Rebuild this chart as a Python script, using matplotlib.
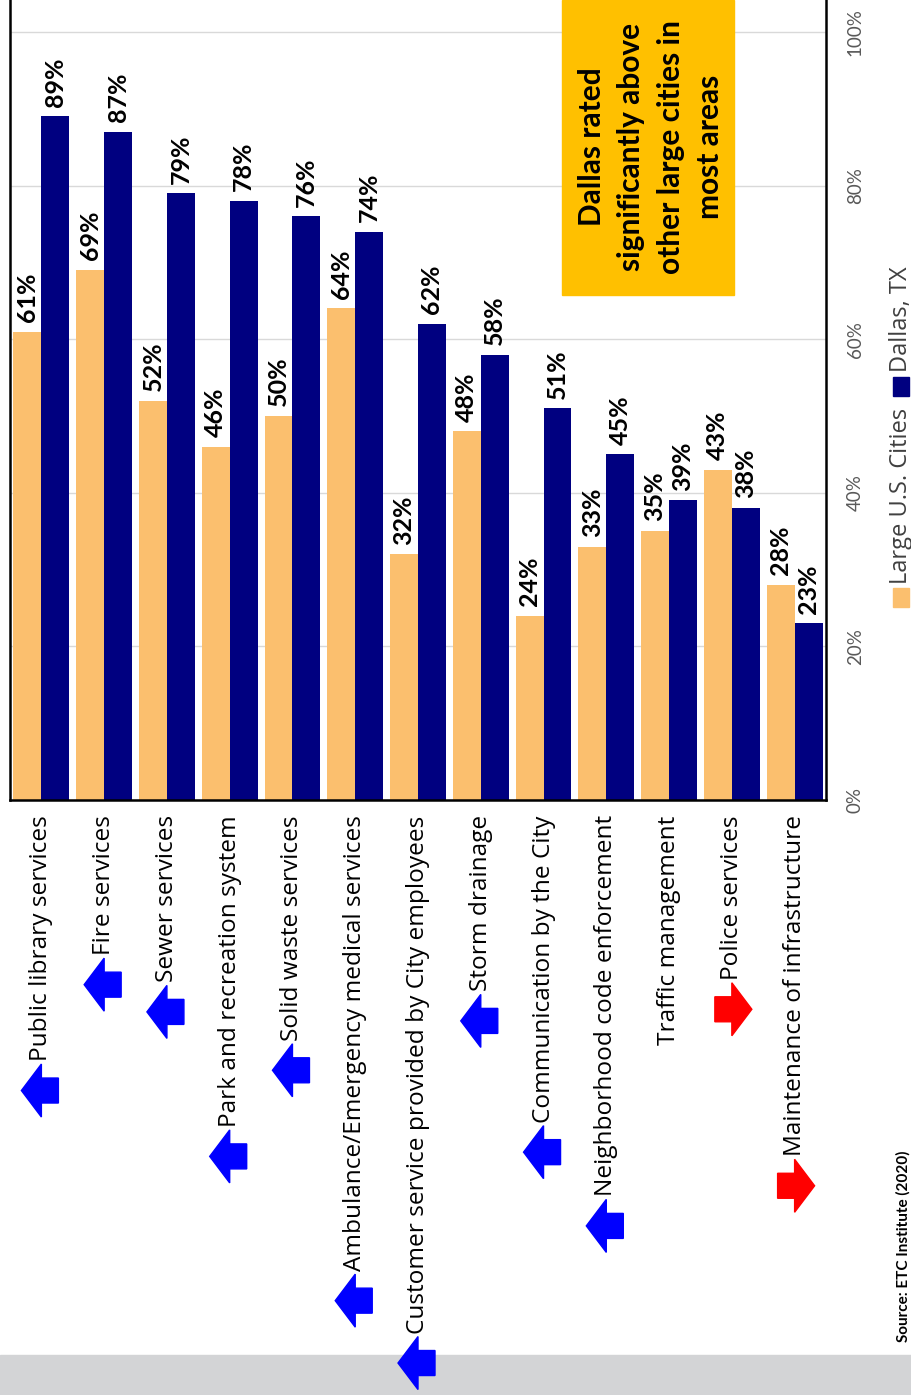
import matplotlib
matplotlib.use('Agg')
import matplotlib.pyplot as plt
import numpy as np
from matplotlib.patches import Polygon, Rectangle

plt.rcParams['font.family'] = ['Lato', 'DejaVu Sans']

services = ['Public library services', 'Fire services', 'Sewer services',
            'Park and recreation system', 'Solid waste services',
            'Ambulance/Emergency medical services',
            'Customer service provided by City employees', 'Storm drainage',
            'Communication by the City', 'Neighborhood code enforcement',
            'Traffic management', 'Police services',
            'Maintenance of infrastructure']
large_cities = [61, 69, 52, 46, 50, 64, 32, 48, 24, 33, 35, 43, 28]
dallas = [89, 87, 79, 78, 76, 74, 62, 58, 51, 45, 39, 38, 23]
# up = Dallas significantly above large cities, down = significantly below
trend = ['up'] * 10 + ['', 'down', 'down']
ticks = [0, 20, 40, 60, 80, 100]

W, H = 912, 1395
fig = plt.figure(figsize=(W / 100, H / 100), dpi=100)


def fx(px):
    return px / W


def fy(py):
    return 1 - py / H


# page is laid out sideways: bars grow upward, labels read bottom-to-top
ax = fig.add_axes([fx(10), fy(800), fx(826) - fx(10), fy(0) - fy(800)])
x = np.arange(len(services))
w = 0.445
ax.bar(x - w / 2, large_cities, w, color='#fbbf6e', zorder=2)
ax.bar(x + w / 2, dallas, w, color='#000080', zorder=2)
ax.set_xlim(-0.5, len(services) - 0.5)
ax.set_ylim(0, 800 / 7.68)

for xi, v in zip(x - w / 2, large_cities):
    ax.annotate(f'{v}%', (xi, v), xytext=(0, 7), textcoords='offset points',
                rotation=90, ha='center', va='bottom', fontsize=18,
                fontweight='bold')
for xi, v in zip(x + w / 2, dallas):
    ax.annotate(f'{v}%', (xi, v), xytext=(0, 7), textcoords='offset points',
                rotation=90, ha='center', va='bottom', fontsize=18,
                fontweight='bold')

ax.set_axisbelow(True)
ax.yaxis.grid(True, color='#d9d9d9', lw=1)
ax.spines['top'].set_visible(False)
for s in ['left', 'bottom', 'right']:
    ax.spines[s].set_linewidth(1.8)
    ax.spines[s].set_color('black')

ax.yaxis.tick_right()
ax.set_yticks(ticks)
ax.set_yticklabels([f'{t}%' for t in ticks])
ax.tick_params(axis='y', length=0, pad=15, labelsize=13.5, labelcolor='#595959')
plt.setp(ax.get_yticklabels(), rotation=90, va='center')

ax.set_xticks(x)
ax.set_xticklabels(services, family=['Open Sans', 'DejaVu Sans'])
ax.tick_params(axis='x', length=0, pad=11, labelsize=17.6)
plt.setp(ax.get_xticklabels(), rotation=90)

# callout box
fig.patches.append(Rectangle((fx(562), fy(295)), fx(734) - fx(562), fy(0) - fy(295),
                             transform=fig.transFigure, color='#ffc000', zorder=3))
fig.text(fx(651), fy(147), 'Dallas rated\nsignificantly above\nother large cities in\nmost areas',
         rotation=90, ha='center', va='center', multialignment='center',
         fontsize=21.5, fontweight='bold', linespacing=1.5, zorder=4)

# legend
fig.patches.append(Rectangle((fx(893), fy(607)), fx(16), 19 / H,
                             transform=fig.transFigure, color='#fbbf6e', zorder=3))
fig.text(fx(901), fy(584), 'Large U.S. Cities', rotation=90, ha='center', va='bottom',
         fontsize=17, color='#404040', family=['Open Sans', 'DejaVu Sans'])
fig.patches.append(Rectangle((fx(893), fy(396)), fx(16), 19 / H,
                             transform=fig.transFigure, color='#000080', zorder=3))
fig.text(fx(901), fy(372), 'Dallas, TX', rotation=90, ha='center', va='bottom',
         fontsize=17, color='#404040', family=['Open Sans', 'DejaVu Sans'])

# grey footer band and source line
fig.patches.append(Rectangle((0, 0), 1, 40 / H, transform=fig.transFigure,
                             color='#d3d4d6', zorder=1))
fig.text(fx(911), fy(1342), 'Source: ETC Institute (2020)', rotation=90,
         ha='right', va='bottom', fontsize=11, fontweight='bold')

# block arrows under each label
fig.canvas.draw()
renderer = fig.canvas.get_renderer()
for i, lab in enumerate(ax.get_xticklabels()):
    if not trend[i]:
        continue
    bb = lab.get_window_extent(renderer)
    cx = ax.transData.transform((i, 0))[0]
    ym = bb.y0 - 3 - 26.5
    if trend[i] == 'up':
        tip, hb, tail, col = cx - 20, cx, cx + 17, '#0000ff'
    else:
        tip, hb, tail, col = cx + 20, cx, cx - 17, '#ff0000'
    pts = [(tip, ym), (hb, ym + 26.5), (hb, ym + 12.5), (tail, ym + 12.5),
           (tail, ym - 12.5), (hb, ym - 12.5), (hb, ym - 26.5)]
    pts = [(px / W, py / H) for px, py in pts]
    fig.patches.append(Polygon(pts, closed=True, transform=fig.transFigure,
                               color=col, zorder=5))

fig.savefig('out.png', dpi=100)
